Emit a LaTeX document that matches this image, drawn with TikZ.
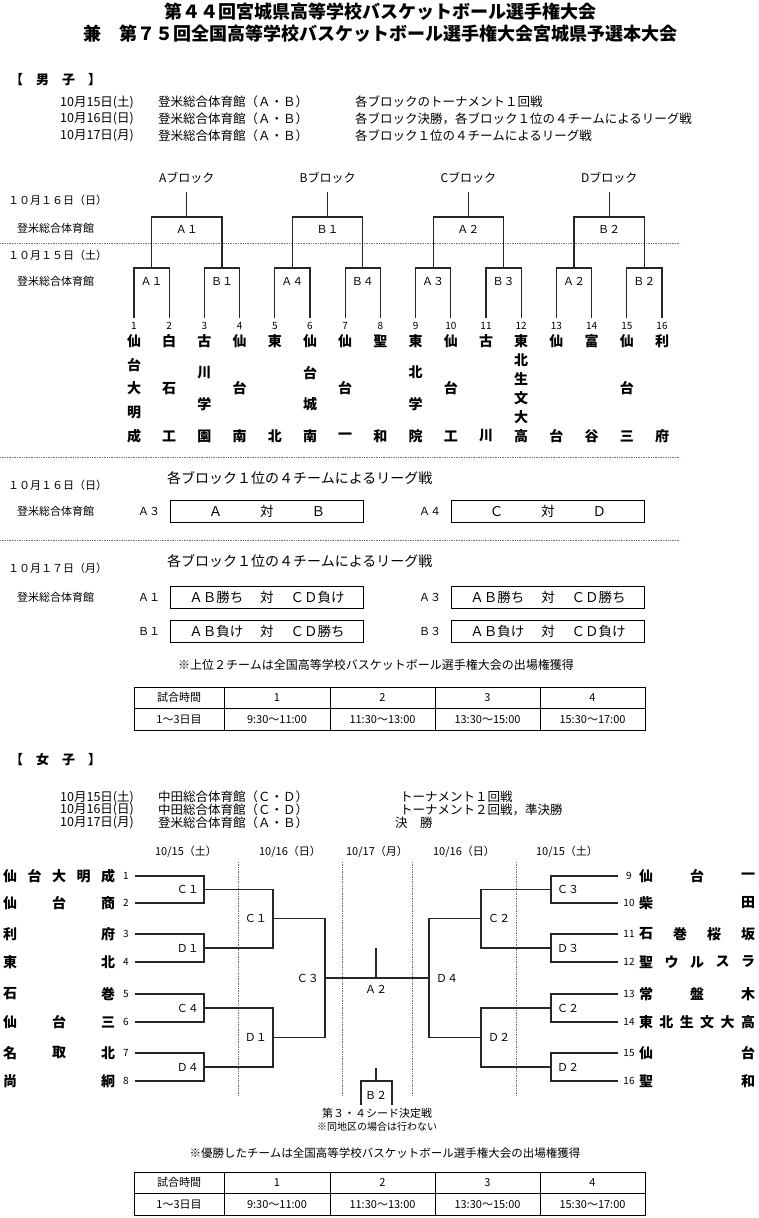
\documentclass[tikz,border=0pt]{standalone}
\usepackage{fontspec}
\setmainfont{Noto Sans CJK JP}
\usetikzlibrary{positioning}
\tikzset{
  brk/.style  = {line width=1.2pt, black!85},
  sep/.style  = {line width=0.7pt, densely dotted, black!55},
  ttl/.style  = {font=\bfseries\fontsize{18}{20}\selectfont, inner sep=0pt},
  sec/.style  = {font=\bfseries\fontsize{13}{14}\selectfont, anchor=west, inner sep=0pt},
  sch/.style  = {font=\fontsize{12.5}{13}\selectfont, anchor=west, inner sep=0pt},
  day/.style  = {font=\fontsize{11}{12}\selectfont, anchor=west, inner sep=0pt},
  lbl/.style  = {font=\fontsize{11}{12}\selectfont, inner sep=0pt},
  num/.style  = {font=\fontsize{10}{10}\selectfont, inner sep=0pt},
  team/.style = {font=\bfseries\fontsize{14}{14}\selectfont, inner sep=0pt},
  lg/.style   = {draw, line width=1pt, minimum width=193pt, minimum height=22pt,
                 inner sep=0pt, font=\fontsize{13.5}{14}\selectfont},
  note/.style = {font=\fontsize{12}{13}\selectfont, inner sep=0pt},
  cell/.style = {draw, line width=0.9pt, minimum height=21.5pt, inner sep=0pt,
                 font=\fontsize{11}{12}\selectfont},
}
\newcommand{\lgvs}{\hspace{17pt}対\hspace{17pt}}

\begin{document}
\begin{tikzpicture}[x=1pt, y=-1pt]
  \useasboundingbox (0,0) rectangle (758,1218);
  \node[ttl] (t1) at (380,12) {第４４回宮城県高等学校バスケットボール選手権大会};
  \node[ttl] (t2) at (380,34) {兼　第７５回全国高等学校バスケットボール選手権大会宮城県予選本大会};

  % boys
  \node[sec] (boys) at (10,80) {【　男　子　】};
  \foreach \y/\d/\g/\e [count=\k] in {102/{10月15日(土)}/{登米総合体育館（Ａ・Ｂ）}/{各ブロックのトーナメント１回戦},
      119/{10月16日(日)}/{登米総合体育館（Ａ・Ｂ）}/{各ブロック決勝，各ブロック１位の４チームによるリーグ戦},
      136/{10月17日(月)}/{登米総合体育館（Ａ・Ｂ）}/{各ブロック１位の４チームによるリーグ戦}} {
    \node[sch] (bd\k) at (60,\y) {\d};
    \node[sch] (bg\k) at (158,\y) {\g};
    \node[sch] (be\k) at (355,\y) {\e};
  }
  \node[day] (d16) at (8,200) {１０月１６日（日）};
  \node[day] (h16) at (17,228) {登米総合体育館};
  \draw[sep] (0,243) -- (680,243);
  \node[day] (d15) at (8,255) {１０月１５日（土）};
  \node[day] (h15) at (17,281) {登米総合体育館};

  \foreach \i in {1,...,16} {
    \coordinate (m\i) at ({134+35.2*(\i-1)},318);
    \node[num] (mn\i) at ({134+35.2*(\i-1)},326) {\i};
  }
  \foreach \p/\l in {1/Ａ１,2/Ｂ１,3/Ａ４,4/Ｂ４,5/Ａ３,6/Ｂ３,7/Ａ２,8/Ｂ２} {
    \coordinate (r\p) at ({81.2+70.4*\p},268);
    \node[lbl] (rl\p) at ({81.2+70.4*\p},281) {\l};
    \pgfmathtruncatemacro\a{2*\p-1}\pgfmathtruncatemacro\b{2*\p}
    \draw[brk] (m\a) |- (r\p) -| (m\b);
  }
  \foreach \s/\l/\n in {1/Ａ１/A,2/Ｂ１/B,3/Ａ２/C,4/Ｂ２/D} {
    \coordinate (s\s) at ({46+140.8*\s},217);
    \coordinate (st\s) at ({46+140.8*\s},192);
    \node[lbl, font=\fontsize{12}{12}\selectfont] (blk\s) at ({46+140.8*\s},178) {\n ブロック};
    \node[lbl] (sl\s) at ({46+140.8*\s},229) {\l};
    \pgfmathtruncatemacro\a{2*\s-1}\pgfmathtruncatemacro\b{2*\s}
    \draw[brk] (r\a) |- (s\s) -| (r\b);
    \draw[brk] (s\s) -- (st\s);
  }
  \foreach \i/\n/\s in {1/5/{仙,台,大,明,成},2/3/{白,石,工},3/4/{古,川,学,園},4/3/{仙,台,南},
      5/2/{東,北},6/4/{仙,台,城,南},7/3/{仙,台,一},8/2/{聖,和},9/4/{東,北,学,院},
      10/3/{仙,台,工},11/2/{古,川},12/6/{東,北,生,文,大,高},13/2/{仙,台},14/2/{富,谷},
      15/3/{仙,台,三},16/2/{利,府}}
    \foreach \c [count=\k] in \s
      \node[team] (tm\i-\k) at ({134+35.2*(\i-1)},{341+95*(\k-1)/(\n-1)}) {\c};

  % league
  \draw[sep] (0,457) -- (680,457);
  \node[day] (d16b) at (8,485) {１０月１６日（日）};
  \node[day] (h16b) at (17,511) {登米総合体育館};
  \node[note, anchor=west, font=\fontsize{14}{14}\selectfont] (lt1) at (167,478) {各ブロック１位の４チームによるリーグ戦};
  \node[lbl] (ga3) at (149,511) {Ａ３};
  \node[lg] (g1) at (267,511) {Ａ\hspace{38pt}対\hspace{38pt}Ｂ};
  \node[lbl] (ga4) at (430,511) {Ａ４};
  \node[lg] (g2) at (548,511) {Ｃ\hspace{38pt}対\hspace{38pt}Ｄ};
  \draw[sep] (0,540) -- (680,540);
  \node[day] (d17) at (8,568) {１０月１７日（月）};
  \node[day] (h17) at (17,597) {登米総合体育館};
  \node[note, anchor=west, font=\fontsize{14}{14}\selectfont] (lt2) at (167,561) {各ブロック１位の４チームによるリーグ戦};
  \node[lbl] (ga1) at (149,597) {Ａ１};
  \node[lg] (g3) at (267,597) {ＡＢ勝ち\lgvs ＣＤ負け};
  \node[lbl] (ga5) at (430,597) {Ａ３};
  \node[lg] (g4) at (548,597) {ＡＢ勝ち\lgvs ＣＤ勝ち};
  \node[lbl] (gb1) at (149,631) {Ｂ１};
  \node[lg] (g5) at (267,631) {ＡＢ負け\lgvs ＣＤ勝ち};
  \node[lbl] (gb3) at (430,631) {Ｂ３};
  \node[lg] (g6) at (548,631) {ＡＢ負け\lgvs ＣＤ負け};
  \node[note] (n1) at (376,665) {※上位２チームは全国高等学校バスケットボール選手権大会の出場権獲得};

  % time tables
  \foreach \ty/\tn in {687/a,1172/b}
    \foreach \cx/\cw/\ca/\cb [count=\k] in {179/90/試合時間/1～3日目, 277/106/1/9:30～11:00,
        382.5/105/2/11:30～13:00, 487.5/105/3/13:30～15:00, 592.5/105/4/15:30～17:00} {
      \node[cell, minimum width=\cw pt] (\tn h\k) at (\cx,\ty+10.75) {\ca};
      \node[cell, minimum width=\cw pt] (\tn v\k) at (\cx,\ty+32.25) {\cb};
    }

  % girls
  \node[sec] (girls) at (10,760) {【　女　子　】};
  \foreach \y/\d/\g/\e/\ex [count=\k] in {797/{10月15日(土)}/{中田総合体育館（Ｃ・Ｄ）}/{トーナメント１回戦}/400,
      810/{10月16日(日)}/{中田総合体育館（Ｃ・Ｄ）}/{トーナメント２回戦，準決勝}/400,
      823/{10月17日(月)}/{登米総合体育館（Ａ・Ｂ）}/{決　勝}/395} {
    \node[sch] (gd\k) at (60,\y) {\d};
    \node[sch] (gg\k) at (158,\y) {\g};
    \node[sch] (ge\k) at (\ex,\y) {\e};
  }
  \foreach \x/\t [count=\k] in {186/{10/15（土）},290/{10/16（日）},377/{10/17（月）},464/{10/16（日）},567/{10/15（土）}}
    \node[lbl] (hd\k) at (\x,852) {\t};
  \foreach \x in {238,342,412,516}
    \draw[sep] (\x,862) -- (\x,1095);

  \foreach \i/\y/\n/\s in {1/876/5/{仙,台,大,明,成},2/903/3/{仙,台,商},3/934/2/{利,府},4/962/2/{東,北},
      5/994/2/{石,巻},6/1022/3/{仙,台,三},7/1053/3/{名,取,北},8/1081/2/{尚,絅}} {
    \coordinate (wl\i) at (135,\y);
    \node[num] (wn\i) at (126,\y) {\i};
    \foreach \c [count=\k] in \s
      \node[team] (wt\i-\k) at ({10+98*(\k-1)/(\n-1)},\y) {\c};
  }
  \foreach \i/\y/\n/\s in {9/876/3/{仙,台,一},10/903/2/{柴,田},11/934/4/{石,巻,桜,坂},12/962/5/{聖,ウ,ル,ス,ラ},
      13/994/3/{常,盤,木},14/1022/6/{東,北,生,文,大,高},15/1053/2/{仙,台},16/1081/2/{聖,和}} {
    \coordinate (wr\i) at (618,\y);
    \node[num] (wn\i) at (629,\y) {\i};
    \foreach \c [count=\k] in \s
      \node[team] (wt\i-\k) at ({646+102*(\k-1)/(\n-1)},\y) {\c};
  }
  % first round
  \foreach \p/\y/\l/\r in {1/889.5/Ｃ１/Ｃ３,2/948/Ｄ１/Ｄ３,3/1008/Ｃ４/Ｃ２,4/1067/Ｄ４/Ｄ２} {
    \coordinate (lp\p) at (204,\y);
    \coordinate (rp\p) at (551,\y);
    \node[lbl, anchor=east] (lpl\p) at (199,\y) {\l};
    \node[lbl, anchor=west] (rpl\p) at (557,\y) {\r};
    \pgfmathtruncatemacro\a{2*\p-1}\pgfmathtruncatemacro\b{2*\p}
    \pgfmathtruncatemacro\c{2*\p+7}\pgfmathtruncatemacro\d{2*\p+8}
    \draw[brk] (wl\a) -| (lp\p) |- (wl\b);
    \draw[brk] (wr\c) -| (rp\p) |- (wr\d);
  }
  % second round
  \foreach \q/\y/\l/\r in {1/918.75/Ｃ１/Ｃ２,2/1037.5/Ｄ１/Ｄ２} {
    \coordinate (lq\q) at (273,\y);
    \coordinate (rq\q) at (481,\y);
    \node[lbl, anchor=east] (lql\q) at (267,\y) {\l};
    \node[lbl, anchor=west] (rql\q) at (488,\y) {\r};
    \pgfmathtruncatemacro\a{2*\q-1}\pgfmathtruncatemacro\b{2*\q}
    \draw[brk] (lp\a) -| (lq\q) |- (lp\b);
    \draw[brk] (rp\a) -| (rq\q) |- (rp\b);
  }
  % semis and final
  \coordinate (ls) at (325,978);
  \coordinate (rs) at (429,978);
  \node[lbl, anchor=east] (lsl) at (319,978) {Ｃ３};
  \node[lbl, anchor=west] (rsl) at (436,978) {Ｄ４};
  \draw[brk] (lq1) -| (ls) |- (lq2);
  \draw[brk] (rq1) -| (rs) |- (rq2);
  \draw[brk] (ls) -- (rs);
  \coordinate (fa) at (376,978);
  \coordinate (fat) at (376,948);
  \draw[brk] (fa) -- (fat);
  \node[lbl] (fal) at (376,989) {Ａ２};
  % seed game
  \coordinate (bt) at (376,1068);
  \coordinate (bm) at (376,1081);
  \coordinate (bl) at (361,1105);
  \coordinate (br) at (392,1105);
  \draw[brk] (bl) |- (bm) -| (br);
  \draw[brk] (bm) -- (bt);
  \node[lbl] (bbl) at (376,1095) {Ｂ２};
  \node[note, font=\fontsize{11}{12}\selectfont] (b34) at (377,1113) {第３・４シード決定戦};
  \node[note, font=\fontsize{10}{11}\selectfont] (b34n) at (377,1127) {※同地区の場合は行わない};
  \node[note, font=\fontsize{11.5}{12}\selectfont] (n2) at (385,1153) {※優勝したチームは全国高等学校バスケットボール選手権大会の出場権獲得};
\end{tikzpicture}
\end{document}
